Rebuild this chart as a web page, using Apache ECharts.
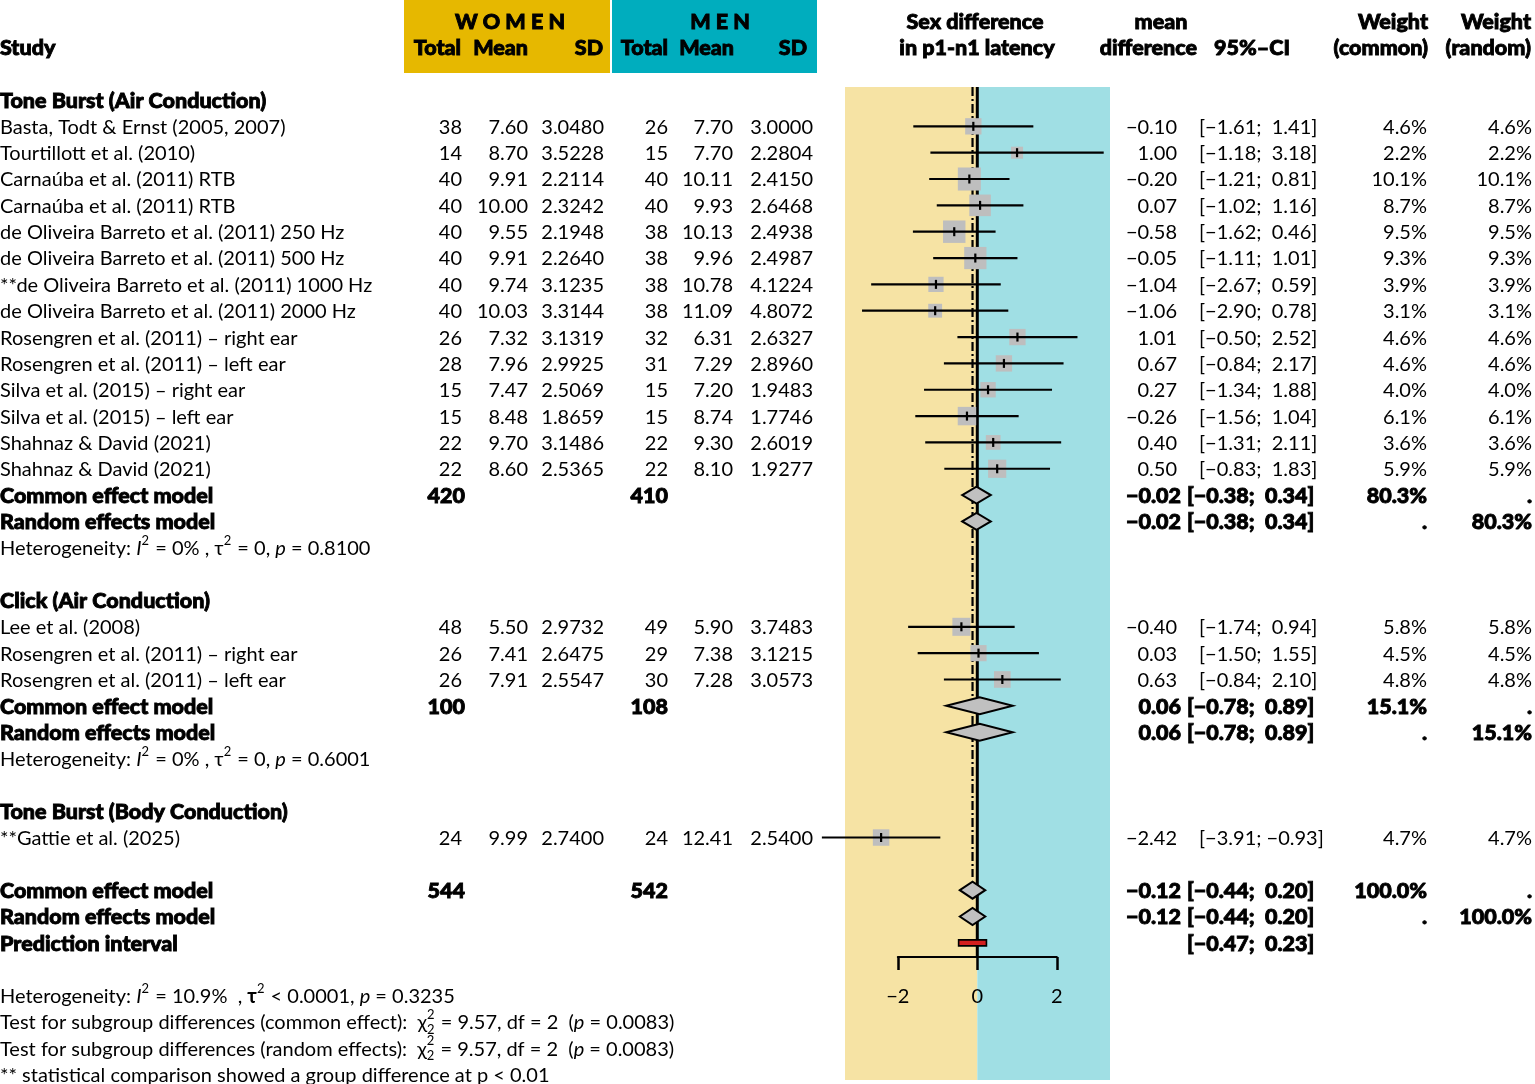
<!DOCTYPE html>
<html><head><meta charset="utf-8">
<script src="https://cdn.jsdelivr.net/npm/echarts@6/dist/echarts.min.js"></script>
<style>html,body{margin:0;padding:0;background:#fff}#c{width:1535px;height:1084px}</style>
</head><body><div id="c"></div>
<script>
// ---------------- DATA ----------------
const subgroupHeadings = ['Tone Burst (Air Conduction)', 'Click (Air Conduction)', 'Tone Burst (Body Conduction)'];
const subgroupRows = [0, 19, 27];

const studies = [
  'Basta, Todt & Ernst (2005, 2007)',
  'Tourtillott et al. (2010)',
  'Carnaúba et al. (2011) RTB',
  'Carnaúba et al. (2011) RTB',
  'de Oliveira Barreto et al. (2011) 250 Hz',
  'de Oliveira Barreto et al. (2011) 500 Hz',
  '**de Oliveira Barreto et al. (2011) 1000 Hz',
  'de Oliveira Barreto et al. (2011) 2000 Hz',
  'Rosengren et al. (2011) – right ear',
  'Rosengren et al. (2011) – left ear',
  'Silva et al. (2015) – right ear',
  'Silva et al. (2015) – left ear',
  'Shahnaz & David (2021)',
  'Shahnaz & David (2021)',
  'Lee et al. (2008)',
  'Rosengren et al. (2011) – right ear',
  'Rosengren et al. (2011) – left ear',
  '**Gattie et al. (2025)'
];
const studyRows   = [1,2,3,4,5,6,7,8,9,10,11,12,13,14, 20,21,22, 28];
const womenTotal  = [38,14,40,40,40,40,40,40,26,28,15,15,22,22, 48,26,26, 24];
const womenMean   = [7.60,8.70,9.91,10.00,9.55,9.91,9.74,10.03,7.32,7.96,7.47,8.48,9.70,8.60, 5.50,7.41,7.91, 9.99];
const womenSD     = [3.0480,3.5228,2.2114,2.3242,2.1948,2.2640,3.1235,3.3144,3.1319,2.9925,2.5069,1.8659,3.1486,2.5365, 2.9732,2.6475,2.5547, 2.7400];
const menTotal    = [26,15,40,40,38,38,38,38,32,31,15,15,22,22, 49,29,30, 24];
const menMean     = [7.70,7.70,10.11,9.93,10.13,9.96,10.78,11.09,6.31,7.29,7.20,8.74,9.30,8.10, 5.90,7.38,7.28, 12.41];
const menSD       = [3.0000,2.2804,2.4150,2.6468,2.4938,2.4987,4.1224,4.8072,2.6327,2.8960,1.9483,1.7746,2.6019,1.9277, 3.7483,3.1215,3.0573, 2.5400];
const meanDiff    = [-0.10,1.00,-0.20,0.07,-0.58,-0.05,-1.04,-1.06,1.01,0.67,0.27,-0.26,0.40,0.50, -0.40,0.03,0.63, -2.42];
const ciLower     = [-1.61,-1.18,-1.21,-1.02,-1.62,-1.11,-2.67,-2.90,-0.50,-0.84,-1.34,-1.56,-1.31,-0.83, -1.74,-1.50,-0.84, -3.91];
const ciUpper     = [1.41,3.18,0.81,1.16,0.46,1.01,0.59,0.78,2.52,2.17,1.88,1.04,2.11,1.83, 0.94,1.55,2.10, -0.93];
const weightCommon= [4.6,2.2,10.1,8.7,9.5,9.3,3.9,3.1,4.6,4.6,4.0,6.1,3.6,5.9, 5.8,4.5,4.8, 4.7];
const weightRandom= [4.6,2.2,10.1,8.7,9.5,9.3,3.9,3.1,4.6,4.6,4.0,6.1,3.6,5.9, 5.8,4.5,4.8, 4.7];

const pooledRows   = [15,16, 23,24, 30,31];
const pooledLabels = ['Common effect model','Random effects model','Common effect model','Random effects model','Common effect model','Random effects model'];
const pooledEst    = [-0.02,-0.02, 0.06,0.06, -0.12,-0.12];
const pooledLower  = [-0.38,-0.38, -0.78,-0.78, -0.44,-0.44];
const pooledUpper  = [0.34,0.34, 0.89,0.89, 0.20,0.20];
const pooledWCommon= ['80.3%','.', '15.1%','.', '100.0%','.'];
const pooledWRandom= ['.','80.3%', '.','15.1%', '.','100.0%'];
const pooledNWomen = [420,null, 100,null, 544,null];
const pooledNMen   = [410,null, 108,null, 542,null];

const predRow = 32, predLabel = 'Prediction interval', predLower = -0.47, predUpper = 0.23;
const overallCommon = -0.12;

const hetRows = [17, 25, 34];
const hetI2   = ['0%', '0%', '10.9%'];
const hetTau2 = ['= 0', '= 0', '< 0.0001'];
const hetP    = ['0.8100', '0.6001', '0.3235'];
const testRows = [35, 36];
const testLabels = ['Test for subgroup differences (common effect):', 'Test for subgroup differences (random effects):'];
const testChi = ['9.57', '9.57'], testDf = ['2', '2'], testP = ['0.0083', '0.0083'];
const noteRow = 37, noteText = '** statistical comparison showed a group difference at p < 0.01';
const axisTicks = [-2, 0, 2];

// ---------------- LAYOUT / STYLE ----------------
const L = {
  rowY0: 100, rowH: 26.34, textDy: 1,
  zeroX: 977.3, pxPerUnit: 39.75,
  bandLeft: 845, bandRight: 1110, bandTop: 87, bandBottom: 1080,
  axisY: 957, tickLen: 13, refBottomRow: 29.5,
  col: { study:0, wTotal:462, wTotalB:465, wMean:528, wSD:604, mTotal:668, mMean:733, mSD:813,
         md:1177, mdB:1181, ci:1199, ciB:1187, wCom:1427, wRan:1532 },
  womenBox:[404,610], menBox:[612,817], boxH:73
};
const C = { women:'#E6B800', men:'#00ADBE', bandW:'#F6E3A4', bandM:'#A0DFE4',
            square:'#BEBEBE', diamond:'#C0C0C0', pred:'#D41F1F', ink:'#000' };
const FF = 'Lato, "Noto Sans", sans-serif';
const F = { reg:'400 20px '+FF, bold:'900 21.5px '+FF, it:'italic 400 20px '+FF, small:'400 13px '+FF, boldTau:'700 20px '+FF };

const xMin = (L.bandLeft - L.zeroX)/L.pxPerUnit, xMax = (L.bandRight - L.zeroX)/L.pxPerUnit;
const yMin = (L.bandTop - L.rowY0)/L.rowH, yMax = (L.bandBottom - L.rowY0)/L.rowH;
const axisRow = (L.axisY - L.rowY0)/L.rowH;

const fmt = (v,d) => (v<0?'−':'') + Math.abs(v).toFixed(d);
const ciStr = (lo,hi) => '[' + fmt(lo,2) + ';' + (hi<0?' ':'  ') + fmt(hi,2) + ']';
const sqSize = w => 2.4 + 6.5*Math.sqrt(w);

const mctx = document.createElement('canvas').getContext('2d');
const tw = (t,f) => { mctx.font = f; return mctx.measureText(t).width; };

// ---------------- TEXT CELLS ----------------
const cells = [];
const cell = (row,x,text,font,align,dy) => cells.push({row,x,text,font:font||F.reg,align:align||'left',dy:dy||0});
function seq(row, x0, segs){
  let x = x0;
  segs.forEach(s => {
    const [t, k] = s;
    if (k === 'sup') { cell(row,x,t,F.small,'left',-8); x += tw(t,F.small)+1; }
    else if (k === 'stack') { cell(row,x,t,F.small,'left',-8); cell(row,x,t,F.small,'left',7); x += tw(t,F.small)+1; }
    else { const f = k==='it'?F.it:(k==='tau'?F.boldTau:F.reg); cell(row,x,t,f,'left'); x += tw(t,f); }
  });
}

// header
cell(-3, 510, 'W O M E N', F.bold, 'center');
cell(-3, 720, 'M E N', F.bold, 'center');
cell(-3, 975, 'Sex difference', F.bold, 'center');
cell(-3, 1161, 'mean', F.bold, 'center');
cell(-3, 1428, 'Weight', F.bold, 'right');
cell(-3, 1531, 'Weight', F.bold, 'right');
cell(-2, 0, 'Study', F.bold, 'left');
cell(-2, 461, 'Total', F.bold, 'right');
cell(-2, 528, 'Mean', F.bold, 'right');
cell(-2, 603, 'SD', F.bold, 'right');
cell(-2, 668, 'Total', F.bold, 'right');
cell(-2, 734, 'Mean', F.bold, 'right');
cell(-2, 807, 'SD', F.bold, 'right');
cell(-2, 977, 'in p1-n1 latency', F.bold, 'center');
cell(-2, 1197, 'difference', F.bold, 'right');
cell(-2, 1252, '95%–CI', F.bold, 'center');
cell(-2, 1428, '(common)', F.bold, 'right');
cell(-2, 1531, '(random)', F.bold, 'right');

subgroupHeadings.forEach((h,i) => cell(subgroupRows[i], 0, h, F.bold));
studies.forEach((s,i) => {
  const r = studyRows[i];
  cell(r, L.col.study, s);
  cell(r, L.col.wTotal, String(womenTotal[i]), F.reg, 'right');
  cell(r, L.col.wMean, womenMean[i].toFixed(2), F.reg, 'right');
  cell(r, L.col.wSD, womenSD[i].toFixed(4), F.reg, 'right');
  cell(r, L.col.mTotal, String(menTotal[i]), F.reg, 'right');
  cell(r, L.col.mMean, menMean[i].toFixed(2), F.reg, 'right');
  cell(r, L.col.mSD, menSD[i].toFixed(4), F.reg, 'right');
  cell(r, L.col.md, fmt(meanDiff[i],2), F.reg, 'right');
  cell(r, L.col.ci, ciStr(ciLower[i], ciUpper[i]), F.reg, 'left');
  cell(r, L.col.wCom, weightCommon[i].toFixed(1)+'%', F.reg, 'right');
  cell(r, L.col.wRan, weightRandom[i].toFixed(1)+'%', F.reg, 'right');
});
pooledRows.forEach((r,i) => {
  cell(r, 0, pooledLabels[i], F.bold);
  if (pooledNWomen[i] != null) cell(r, L.col.wTotalB, String(pooledNWomen[i]), F.bold, 'right');
  if (pooledNMen[i] != null) cell(r, L.col.mTotal, String(pooledNMen[i]), F.bold, 'right');
  cell(r, L.col.mdB, fmt(pooledEst[i],2), F.bold, 'right');
  cell(r, L.col.ciB, ciStr(pooledLower[i], pooledUpper[i]), F.bold, 'left');
  cell(r, L.col.wCom, pooledWCommon[i], F.bold, 'right');
  cell(r, L.col.wRan, pooledWRandom[i], F.bold, 'right');
});
cell(predRow, 0, predLabel, F.bold);
cell(predRow, L.col.ciB, ciStr(predLower, predUpper), F.bold, 'left');

hetRows.forEach((r,i) => {
  const last = i === hetRows.length-1;
  seq(r, 0, [['Heterogeneity: '],['I','it'],['2','sup'],[' = '+hetI2[i]+(last?'  , ':' , ')],['τ', last?'tau':''],['2','sup'],[' '+hetTau2[i]+', '],['p','it'],[' = '+hetP[i]]]);
});
testRows.forEach((r,i) => {
  seq(r, 0, [[testLabels[i]+'  '],['χ'],['2','stack'],[' = '+testChi[i]+', df = '+testDf[i]+'  ('],['p','it'],[' = '+testP[i]+')']]);
});
cell(noteRow, 0, noteText);

// ---------------- SERIES ----------------
const studyData = studies.map((s,i) => [meanDiff[i], ciLower[i], ciUpper[i], studyRows[i], weightCommon[i]]);
const pooledData = pooledRows.map((r,i) => [pooledEst[i], pooledLower[i], pooledUpper[i], r]);

const chart = echarts.init(document.getElementById('c'), null, {renderer:'canvas'});
chart.setOption({
  animation: false,
  backgroundColor: '#fff',
  graphic: [
    {type:'rect', z:0, shape:{x:L.womenBox[0], y:0, width:L.womenBox[1]-L.womenBox[0], height:L.boxH}, style:{fill:C.women}},
    {type:'rect', z:0, shape:{x:L.menBox[0], y:0, width:L.menBox[1]-L.menBox[0], height:L.boxH}, style:{fill:C.men}}
  ],
  grid: [
    {left:L.bandLeft, top:L.bandTop, width:L.bandRight-L.bandLeft, height:L.bandBottom-L.bandTop, containLabel:false},
    {left:L.zeroX-2*L.pxPerUnit, top:L.bandTop, width:4*L.pxPerUnit, height:L.axisY-L.bandTop, containLabel:false}
  ],
  xAxis: [
    {type:'value', gridIndex:0, min:xMin, max:xMax, show:false},
    {type:'value', gridIndex:1, min:axisTicks[0], max:axisTicks[axisTicks.length-1], interval:axisTicks[1]-axisTicks[0],
     position:'bottom', z:6,
     axisLine:{show:true, onZero:false, lineStyle:{color:C.ink, width:2}},
     axisTick:{show:true, length:L.tickLen, lineStyle:{color:C.ink, width:2.5}},
     splitLine:{show:false},
     axisLabel:{color:C.ink, fontSize:20, fontFamily:FF, margin:30, formatter: v => fmt(v,0)}}
  ],
  yAxis: [
    {type:'value', gridIndex:0, min:yMin, max:yMax, inverse:true, show:false},
    {type:'value', gridIndex:1, min:0, max:1, show:false}
  ],
  series: [
    { // background bands + zero line + reference line
      type:'custom', xAxisIndex:0, yAxisIndex:0, z:1, clip:false, silent:true,
      data:[[overallCommon, 0]],
      renderItem(params, api){
        const tl = api.coord([xMin, yMin]), z0 = api.coord([0, yMax]), br = api.coord([xMax, yMax]);
        const zt = api.coord([0, yMin]), zb = api.coord([0, axisRow]);
        const rt = api.coord([api.value(0), yMin]), rb = api.coord([api.value(0), L.refBottomRow]);
        return {type:'group', children:[
          {type:'rect', shape:{x:tl[0], y:tl[1], width:z0[0]-tl[0], height:z0[1]-tl[1]}, style:{fill:C.bandW}},
          {type:'rect', shape:{x:z0[0], y:tl[1], width:br[0]-z0[0], height:br[1]-tl[1]}, style:{fill:C.bandM}},
          {type:'line', shape:{x1:zt[0], y1:zt[1], x2:zb[0], y2:zb[1]}, style:{stroke:C.ink, lineWidth:3}},
          {type:'line', shape:{x1:rt[0], y1:rt[1], x2:rb[0], y2:rb[1]}, style:{stroke:C.ink, lineWidth:2.2, lineDash:[9,3,2,3]}}
        ]};
      }
    },
    { // studies
      type:'custom', xAxisIndex:0, yAxisIndex:0, z:3, clip:false, silent:true,
      encode:{x:[0,1,2], y:3},
      data: studyData,
      renderItem(params, api){
        const r = api.value(3);
        const pE = api.coord([api.value(0), r]), pL = api.coord([api.value(1), r]), pH = api.coord([api.value(2), r]);
        const s = sqSize(api.value(4));
        return {type:'group', children:[
          {type:'rect', shape:{x:pE[0]-s/2, y:pE[1]-s/2, width:s, height:s}, style:{fill:C.square}},
          {type:'line', shape:{x1:pL[0], y1:pL[1], x2:pH[0], y2:pH[1]}, style:{stroke:C.ink, lineWidth:2.2}},
          {type:'line', shape:{x1:pE[0], y1:pE[1]-4.5, x2:pE[0], y2:pE[1]+4.5}, style:{stroke:C.ink, lineWidth:2.2}}
        ]};
      }
    },
    { // pooled diamonds
      type:'custom', xAxisIndex:0, yAxisIndex:0, z:4, clip:false, silent:true,
      encode:{x:[0,1,2], y:3},
      data: pooledData,
      renderItem(params, api){
        const r = api.value(3);
        const pE = api.coord([api.value(0), r]), pL = api.coord([api.value(1), r]), pH = api.coord([api.value(2), r]);
        const h = 8.5;
        return {type:'polygon', shape:{points:[[pL[0],pL[1]],[pE[0],pE[1]-h],[pH[0],pH[1]],[pE[0],pE[1]+h]]},
                style:{fill:C.diamond, stroke:C.ink, lineWidth:2, lineJoin:'miter'}};
      }
    },
    { // prediction interval
      type:'custom', xAxisIndex:0, yAxisIndex:0, z:4, clip:false, silent:true,
      encode:{x:[0,1], y:2},
      data: [[predLower, predUpper, predRow]],
      renderItem(params, api){
        const r = api.value(2);
        const pL = api.coord([api.value(0), r]), pH = api.coord([api.value(1), r]);
        return {type:'rect', shape:{x:pL[0], y:pL[1]-3, width:pH[0]-pL[0], height:6}, style:{fill:C.pred, stroke:C.ink, lineWidth:1.6}};
      }
    },
    { // texts
      type:'custom', xAxisIndex:0, yAxisIndex:0, z:10, clip:false, silent:true,
      encode:{x:0, y:1},
      data: cells.map((c,i) => [0, c.row, i]),
      renderItem(params, api){
        const c = cells[api.value(2)];
        const y = api.coord([0, api.value(1)])[1] + c.dy + L.textDy;
        const isBold = c.font === F.bold;
        const style = {text:c.text, font:c.font, fill:C.ink, align:c.align, verticalAlign:'middle'};
        if (isBold) { style.stroke = C.ink; style.lineWidth = 0.9; }
        return {type:'text', x:c.x, y:y, style:style};
      }
    },
    { type:'line', xAxisIndex:1, yAxisIndex:1, data:[], silent:true }
  ]
});
</script>
</body></html>
